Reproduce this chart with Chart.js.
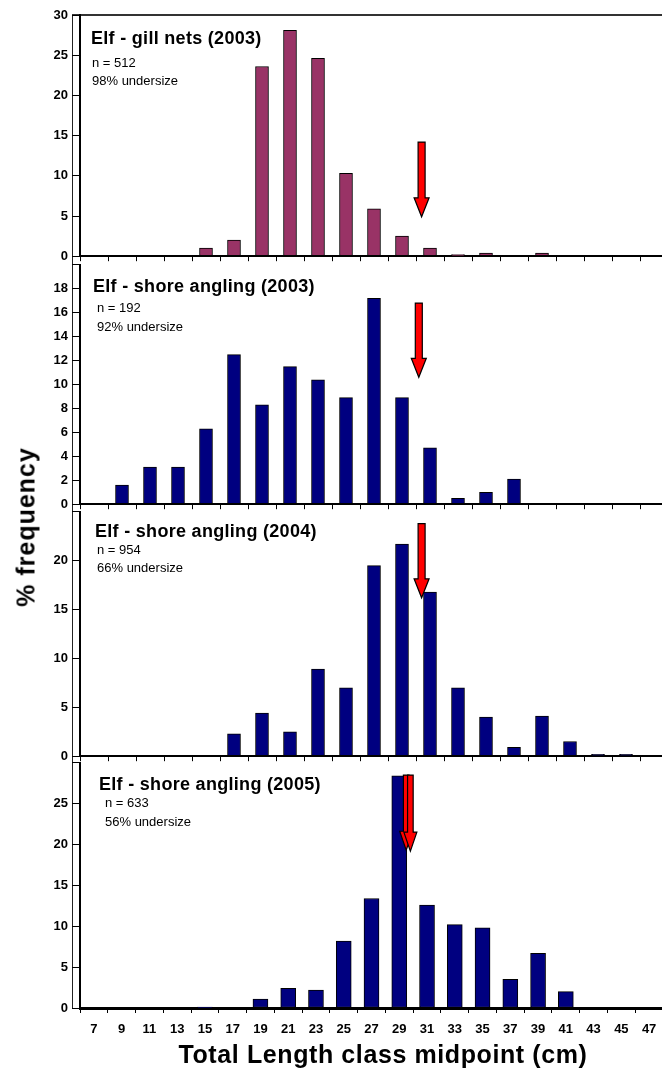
<!DOCTYPE html>
<html>
<head>
<meta charset="utf-8">
<script src="https://cdn.jsdelivr.net/npm/chart.js@4"></script>
<style>
  html, body { margin: 0; padding: 0; background: #fff; overflow: hidden; width: 662px; height: 1070px; }
  #wrap { position: relative; width: 662px; height: 1070px; overflow: hidden; font-family: "Liberation Sans", Arial, sans-serif; color: #000; }
  canvas { position: absolute; left: 0; }
  .title { position: absolute; font-weight: bold; font-size: 18px; line-height: 18px; letter-spacing: 0.3px; white-space: nowrap; }
  .note { position: absolute; font-size: 13px; line-height: 13px; white-space: nowrap; }
  #ytitle { position: absolute; left: 26px; top: 527px; transform: translate(-50%, -50%) rotate(-90deg); font-weight: bold; font-size: 25px; letter-spacing: 1px; white-space: nowrap; }
  #xtitle { position: absolute; left: 383px; top: 1042px; transform: translateX(-50%); font-weight: bold; font-size: 25px; line-height: 25px; letter-spacing: 0.6px; white-space: nowrap; }
  #frameL { position: absolute; left: 72px; top: 15px; width: 1px; height: 993px; background: #222; }
  #frameT { position: absolute; left: 72px; top: 14px; width: 600px; height: 2px; background: #333; }
</style>
</head>
<body>
<div id="wrap">
  <div id="frameL"></div>
  <div id="frameT"></div>
  <canvas id="p0"></canvas>
  <canvas id="p1"></canvas>
  <canvas id="p2"></canvas>
  <canvas id="p3"></canvas>
  <div id="ytitle">% frequency</div>
  <div id="xtitle">Total Length class midpoint (cm)</div>
</div>
<script>
// length class midpoints (cm)
const lengthClasses = [7, 9, 11, 13, 15, 17, 19, 21, 23, 25, 27, 29, 31, 33, 35, 37, 39, 41, 43, 45, 47];

// % frequency per class
const gillNets2003     = [0, 0, 0, 0, 1.0, 2.0, 23.6, 28.1, 24.6, 10.3, 5.9, 2.5, 1.0, 0.2, 0.4, 0, 0.4, 0, 0, 0, 0];
const shoreAngling2003 = [0, 1.6, 3.1, 3.1, 6.3, 12.5, 8.3, 11.5, 10.4, 8.9, 17.2, 8.9, 4.7, 0.5, 1.0, 2.1, 0, 0, 0, 0, 0];
const shoreAngling2004 = [0, 0, 0, 0, 0, 2.3, 4.4, 2.5, 8.9, 7.0, 19.5, 21.7, 16.8, 7.0, 4.0, 0.9, 4.1, 1.5, 0.2, 0.2, 0];
const shoreAngling2005 = [0, 0, 0, 0, 0.1, 0, 1.1, 2.4, 2.2, 8.2, 13.4, 28.4, 12.6, 10.2, 9.8, 3.5, 6.7, 2.0, 0, 0, 0];

const panelTitles = ['Elf - gill nets (2003)', 'Elf - shore angling (2003)', 'Elf - shore angling (2004)', 'Elf - shore angling (2005)'];
const sampleSizes = [512, 192, 954, 633];
const undersize   = [98, 92, 66, 56];

// y axis ranges
const yMax  = [30, 20, 25, 30];
const yStep = [5, 2, 5, 5];

// minimum landing size arrows: [x (cm), from (%), to (%)]
const arrowsByPanel = [
  [[30.4, 14.2, 4.9]],
  [[30.2, 16.8, 10.6]],
  [[30.4, 23.8, 16.2]],
  [[29.5, 28.5, 19.3], [29.8, 28.5, 19.2]],
];

const series = [gillNets2003, shoreAngling2003, shoreAngling2004, shoreAngling2005];
const barColors = ['#993366', '#000080', '#000080', '#000080'];

// pixel layout of the stacked panels
const layoutPx = [
  { top: 0,   plotTop: 15,  plotBottom: 260,  titleTop: 29,  noteLeft: 92,  titleLeft: 91, nTop: 56,  pctTop: 74 },
  { top: 253, plotTop: 263, plotBottom: 508,  titleTop: 277, noteLeft: 97,  titleLeft: 93, nTop: 301, pctTop: 320 },
  { top: 500, plotTop: 510, plotBottom: 760,  titleTop: 522, noteLeft: 97,  titleLeft: 95, nTop: 543, pctTop: 561 },
  { top: 751, plotTop: 761, plotBottom: 1008, titleTop: 775, noteLeft: 105, titleLeft: 99, nTop: 796, pctTop: 815 },
];

Chart.defaults.font.family = '"Liberation Sans", Arial, sans-serif';
Chart.defaults.color = '#000';

// red arrows marking the size limit
const arrowPlugin = {
  id: 'arrows',
  afterDatasetsDraw(chart, args, opts) {
    const { ctx, scales: { x, y } } = chart;
    const twin = (opts.list || []).length > 1;
    (opts.list || []).forEach(([xv, from, to]) => {
      const cx = x.getPixelForValue(xv);
      const y0 = y.getPixelForValue(from);
      const y1 = y.getPixelForValue(to);
      const head = 19, sw = twin ? 2.8 : 3.5, hw = twin ? 6.5 : 7.5;
      ctx.save();
      ctx.beginPath();
      ctx.moveTo(cx - sw, y0);
      ctx.lineTo(cx + sw, y0);
      ctx.lineTo(cx + sw, y1 - head);
      ctx.lineTo(cx + hw, y1 - head);
      ctx.lineTo(cx, y1);
      ctx.lineTo(cx - hw, y1 - head);
      ctx.lineTo(cx - sw, y1 - head);
      ctx.closePath();
      ctx.fillStyle = '#ff0000';
      ctx.fill();
      ctx.strokeStyle = '#000';
      ctx.lineWidth = 1.2;
      ctx.stroke();
      ctx.restore();
    });
  },
};

function makePanel(i) {
  const L = layoutPx[i];
  const last = i === series.length - 1;
  const xAxisH = last ? 32 : 8;
  const canvas = document.getElementById('p' + i);
  canvas.width = 672;
  canvas.height = L.plotBottom - L.top + xAxisH;
  canvas.style.top = L.top + 'px';

  new Chart(canvas, {
    type: 'bar',
    data: {
      datasets: [{
        data: lengthClasses.map((x, k) => ({ x, y: series[i][k] })),
        backgroundColor: barColors[i],
        borderColor: '#000',
        borderWidth: 1,
        borderSkipped: false,
        barThickness: last ? 15 : 13,
      }],
    },
    options: {
      responsive: false,
      animation: false,
      events: [],
      layout: { padding: { top: L.plotTop - L.top, right: 4, left: 0, bottom: 0 } },
      plugins: { legend: { display: false }, tooltip: { enabled: false }, arrows: { list: arrowsByPanel[i] } },
      scales: {
        x: {
          type: 'linear', min: 6, max: 48, offset: false,
          ticks: {
            display: last, stepSize: 1, autoSkip: false, maxRotation: 0, maxTicksLimit: 100,
            callback: v => (v % 2 ? v : ''),
            font: { size: 13, weight: 'bold' }, padding: 9,
          },
          grid: {
            offset: false, drawOnChartArea: false, tickLength: 5, lineWidth: 1,
            color: c => (c.tick && c.tick.value % 2 === 0 ? '#000' : 'rgba(0,0,0,0)'),
          },
          border: { color: '#000', width: last ? 3 : 2 },
          afterFit: s => { s.height = xAxisH; },
        },
        y: {
          min: 0, max: yMax[i],
          ticks: {
            stepSize: yStep[i],
            callback: v => (i > 0 && v === yMax[i] ? '' : v),
            font: { size: 13, weight: 'bold' }, padding: 4,
          },
          grid: { drawOnChartArea: false, tickLength: 8, color: '#000' },
          border: { color: '#000', width: 2 },
          afterFit: s => { s.width = 80; },
        },
      },
    },
    plugins: [arrowPlugin],
  });

  // panel labels
  const wrap = document.getElementById('wrap');
  const t = document.createElement('div');
  t.className = 'title';
  t.style.left = L.titleLeft + 'px';
  t.style.top = L.titleTop + 'px';
  t.textContent = panelTitles[i];
  wrap.appendChild(t);

  const n = document.createElement('div');
  n.className = 'note';
  n.style.left = L.noteLeft + 'px';
  n.style.top = L.nTop + 'px';
  n.textContent = 'n = ' + sampleSizes[i];
  wrap.appendChild(n);

  const u = document.createElement('div');
  u.className = 'note';
  u.style.left = L.noteLeft + 'px';
  u.style.top = L.pctTop + 'px';
  u.textContent = undersize[i] + '% undersize';
  wrap.appendChild(u);
}

series.forEach((s, i) => makePanel(i));
</script>
</body>
</html>
